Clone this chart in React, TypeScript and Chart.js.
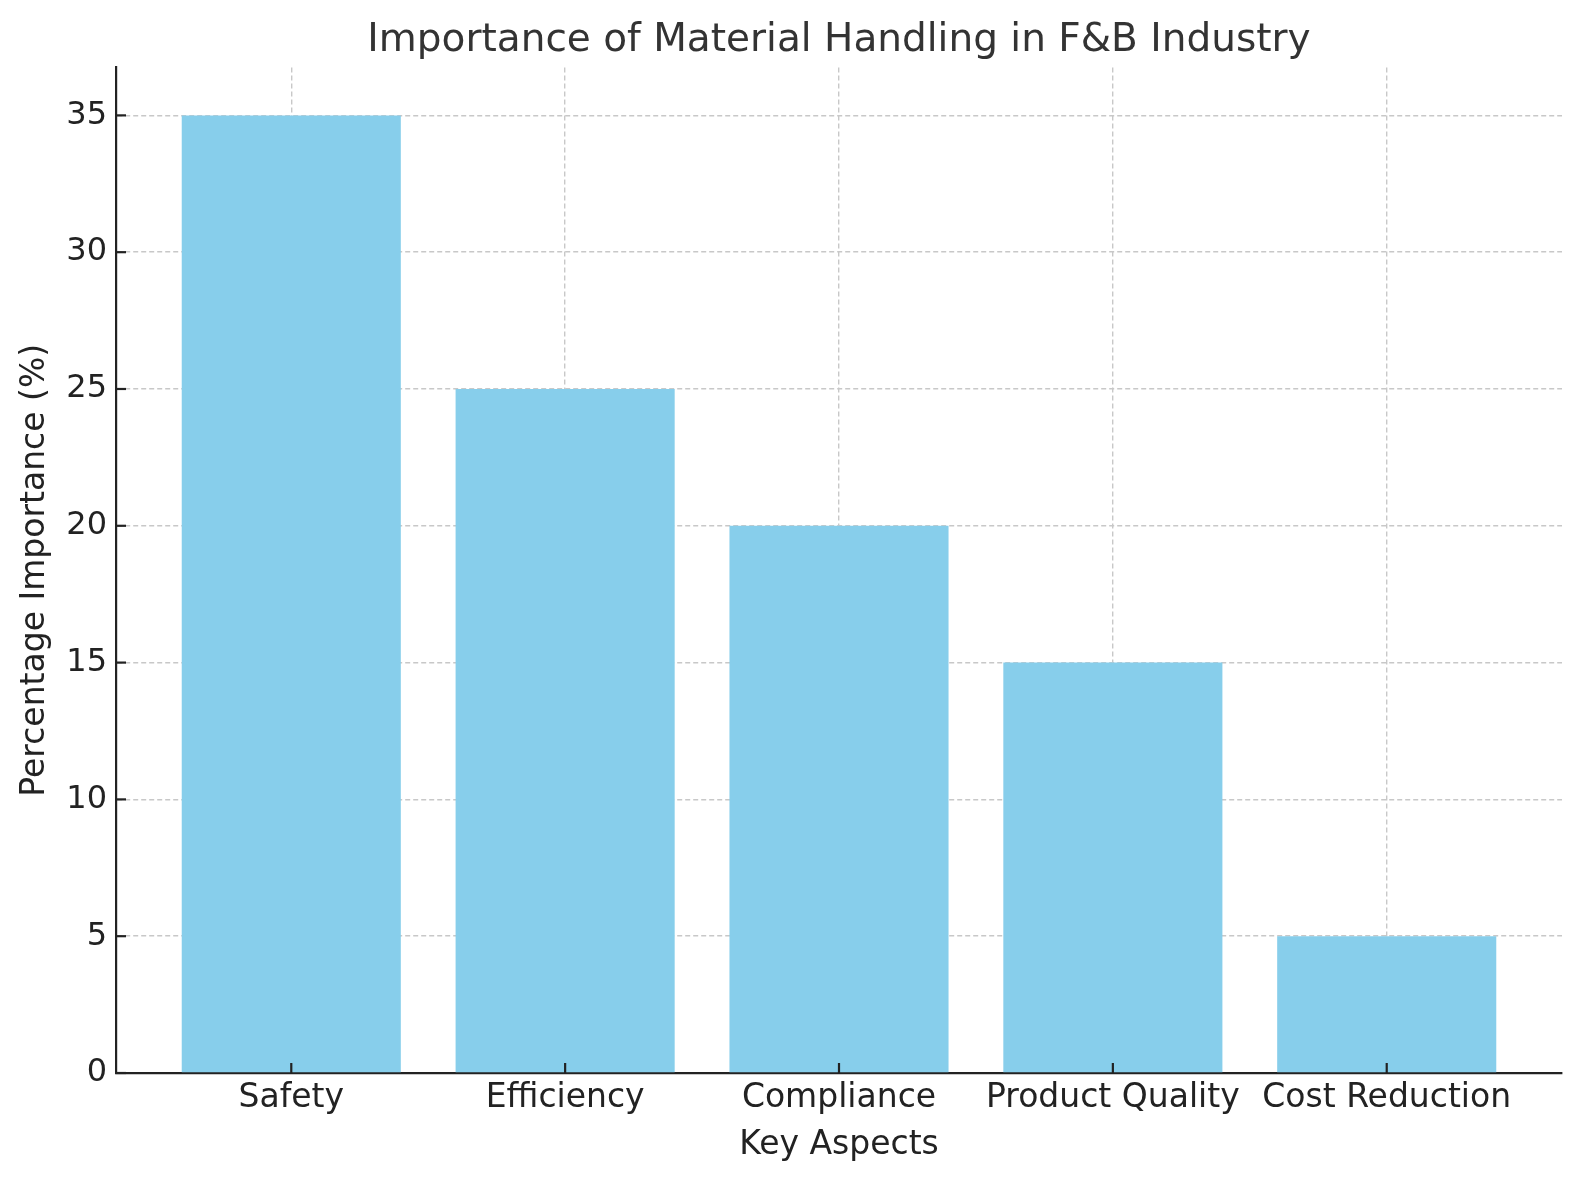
import React, { useEffect, useRef } from "react";
import { Chart, registerables } from "chart.js";

Chart.register(...registerables);

const categories = ["Safety", "Efficiency", "Compliance", "Product Quality", "Cost Reduction"];
const values = [35, 25, 20, 15, 5];
const yTicks = [0, 5, 10, 15, 20, 25, 30, 35];
const yMax = 36.75;
const xMin = -0.64;
const xMax = 4.64;

const FONT = "'DejaVu Sans', sans-serif";
const GRID = "#c8c8c8";
const DARK = "#222222";

const innerTicks = {
  id: "innerTicks",
  afterDraw(chart: any) {
    const { ctx, chartArea } = chart;
    const xs = chart.scales.x;
    const ys = chart.scales.y;
    ctx.save();
    ctx.strokeStyle = DARK;
    ctx.lineWidth = 2.2;
    ctx.setLineDash([]);
    xs.ticks.forEach((t: any) => {
      const px = xs.getPixelForValue(t.value);
      ctx.beginPath();
      ctx.moveTo(px, chartArea.bottom);
      ctx.lineTo(px, chartArea.bottom - 10);
      ctx.stroke();
    });
    ys.ticks.forEach((t: any) => {
      const py = ys.getPixelForValue(t.value);
      ctx.beginPath();
      ctx.moveTo(chartArea.left, py);
      ctx.lineTo(chartArea.left + 10, py);
      ctx.stroke();
    });
    ctx.restore();
  },
};

export default function App() {
  const ref = useRef<HTMLCanvasElement | null>(null);
  useEffect(() => {
    if (!ref.current) return;
    const chart = new Chart(ref.current, {
      type: "bar",
      data: {
        datasets: [
          {
            data: categories.map((c, i) => ({ x: i, y: values[i] })),
            backgroundColor: "#87CEEB",
            borderWidth: 0,
            categoryPercentage: 1,
            barPercentage: 0.8,
          },
        ],
      },
      plugins: [innerTicks],
      options: {
        animation: false,
        responsive: false,
        maintainAspectRatio: false,
        layout: { padding: { left: 0, right: 18, top: 0, bottom: 0 } },
        plugins: {
          legend: { display: false },
          tooltip: { enabled: false },
          title: {
            display: true,
            fullSize: false,
            text: "Importance of Material Handling in F&B Industry",
            color: "#333333",
            font: { family: FONT, size: 39, weight: "normal" },
            padding: { top: 17, bottom: 3.7 },
          },
        },
        scales: {
          x: {
            type: "linear",
            min: xMin,
            max: xMax,
            offset: false,
            z: 1,
            afterBuildTicks: (scale: any) => {
              scale.ticks = categories.map((c, i) => ({ value: i }));
            },
            afterFit: (scale: any) => {
              scale.height = 107;
            },
            grid: {
              offset: false,
              color: GRID,
              lineWidth: 1.4,
              drawTicks: false,
            },
            border: { display: true, color: DARK, width: 2.2, dash: [5, 3] },
            ticks: {
              padding: 6,
              color: DARK,
              font: { family: FONT, size: 33 },
              maxRotation: 0,
              autoSkip: false,
              callback: (v: any) => categories[v] ?? "",
            },
            title: {
              display: true,
              text: "Key Aspects",
              color: DARK,
              font: { family: FONT, size: 33 },
              padding: { top: 0, bottom: 15 },
            },
          },
          y: {
            type: "linear",
            min: 0,
            max: yMax,
            z: 1,
            afterBuildTicks: (scale: any) => {
              scale.ticks = yTicks.map((v) => ({ value: v }));
            },
            afterFit: (scale: any) => {
              scale.width = 116;
            },
            grid: {
              color: GRID,
              lineWidth: 1.4,
              drawTicks: false,
            },
            border: { display: true, color: DARK, width: 2.2, dash: [5, 3] },
            ticks: {
              padding: 9,
              color: DARK,
              font: { family: FONT, size: 32 },
            },
            title: {
              display: true,
              text: "Percentage Importance (%)",
              color: DARK,
              font: { family: FONT, size: 33 },
              padding: { top: 15.5, bottom: 0 },
            },
          },
        },
      },
    });
    return () => chart.destroy();
  }, []);
  return (
    <div style={{ position: "fixed", left: 0, top: 0, width: 1580, height: 1180, background: "#fff" }}>
      <canvas ref={ref} width={1580} height={1180} style={{ width: 1580, height: 1180 }} />
    </div>
  );
}
